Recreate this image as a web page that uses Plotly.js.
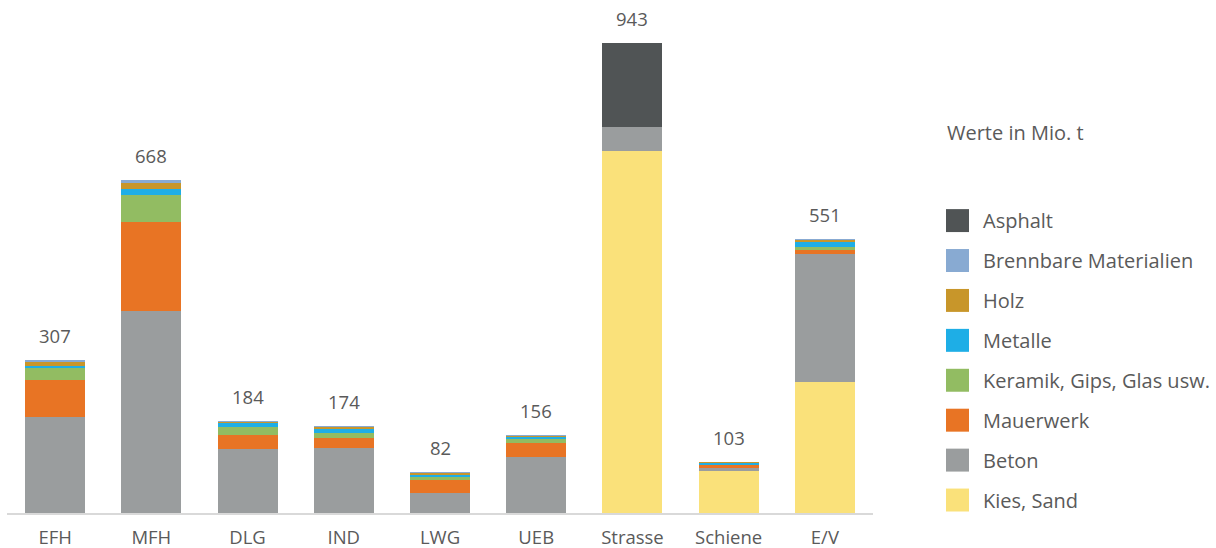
<!DOCTYPE html>
<html>
<head>
<meta charset="utf-8">
<script src="https://cdn.plot.ly/plotly-3.0.1.min.js"></script>
<style>html,body{margin:0;padding:0;background:#fff;}#chart{width:1216px;height:548px;}</style>
</head>
<body>
<div id="chart"></div>
<script>
const categories = ['EFH','MFH','DLG','IND','LWG','UEB','Strasse','Schiene','E/V'];
const kiesSand   = [0,   0,   0,   0,   1,  0,   726, 85, 263];
const beton      = [192, 405, 128, 131, 39, 112, 50,  6,  257];
const mauerwerk  = [76,  180, 29,  20,  26, 28,  0,   5,  9];
const keramik    = [24,  54,  15,  9,   7,  9,   0,   1,  6];
const metalle    = [4,   11,  8,   9,   3,  4,   0,   3,  10];
const holz       = [8,   12,  3,   4,   4,  2,   0,   2,  4];
const brennbare  = [3,   6,   1,   1,   2,  1,   0,   1,  2];
const asphalt    = [0,   0,   0,   0,   0,  0,   167, 0,  0];
const totals     = [307, 668, 184, 174, 82, 156, 943, 103, 551];
const unitNote = 'Werte in Mio. t';

const series = [
  {name:'Kies, Sand', y:kiesSand, color:'#fae17a'},
  {name:'Beton', y:beton, color:'#9a9d9e'},
  {name:'Mauerwerk', y:mauerwerk, color:'#e87424'},
  {name:'Keramik, Gips, Glas usw.', y:keramik, color:'#92bc62'},
  {name:'Metalle', y:metalle, color:'#1eaee6'},
  {name:'Holz', y:holz, color:'#c8962a'},
  {name:'Brennbare Materialien', y:brennbare, color:'#88aad2'},
  {name:'Asphalt', y:asphalt, color:'#505455'}
];

const txtColor = '#5a5a5a';
const font = 'Open Sans, Noto Sans, sans-serif';

const traces = series.map(s => ({
  type:'bar', x:categories, y:s.y, name:s.name,
  marker:{color:s.color, line:{width:0}},
  hoverinfo:'skip', showlegend:false
}));

const W = 1216, H = 548;
const margin = {l:7, r:343, t:14.5, b:34.5};
const plotW = W - margin.l - margin.r;
const plotH = H - margin.t - margin.b;
const px2x = px => (px - margin.l) / plotW;
const py2y = py => 1 - (py - margin.t) / plotH;

const annotations = categories.map((c,i) => ({
  x:c, y:totals[i], xref:'x', yref:'y', text:String(totals[i]),
  showarrow:false, yanchor:'bottom', yshift:10,
  font:{family:font, size:18.5, color:txtColor}
}));

annotations.push({
  x:px2x(945), y:py2y(132), xref:'paper', yref:'paper', text:unitNote,
  showarrow:false, xanchor:'left', yanchor:'middle',
  font:{family:font, size:20, color:txtColor}
});

const shapes = [];
const legendOrder = series.slice().reverse();
legendOrder.forEach((s,k) => {
  const cy = 220.5 + 40*k;
  shapes.push({
    type:'rect', xref:'paper', yref:'paper',
    x0:px2x(946), x1:px2x(969), y0:py2y(cy+11.5), y1:py2y(cy-11.5),
    fillcolor:s.color, line:{width:0}
  });
  annotations.push({
    x:px2x(981), y:py2y(cy), xref:'paper', yref:'paper', text:s.name,
    showarrow:false, xanchor:'left', yanchor:'middle',
    font:{family:font, size:20, color:txtColor}
  });
});

const layout = {
  width:W, height:H, margin:margin,
  paper_bgcolor:'#fff', plot_bgcolor:'#fff',
  barmode:'stack', bargap:0.376,
  showlegend:false,
  xaxis:{
    type:'category', showgrid:false, zeroline:false,
    showline:true, linecolor:'#d9d9d9', linewidth:2,
    ticks:'', ticklabelstandoff:7,
    tickfont:{family:font, size:18.5, color:txtColor}
  },
  yaxis:{range:[0,1000], visible:false, showgrid:false, zeroline:false},
  annotations:annotations, shapes:shapes,
  font:{family:font, color:txtColor}
};

Plotly.newPlot('chart', traces, layout, {displayModeBar:false, staticPlot:true});
</script>
</body>
</html>
